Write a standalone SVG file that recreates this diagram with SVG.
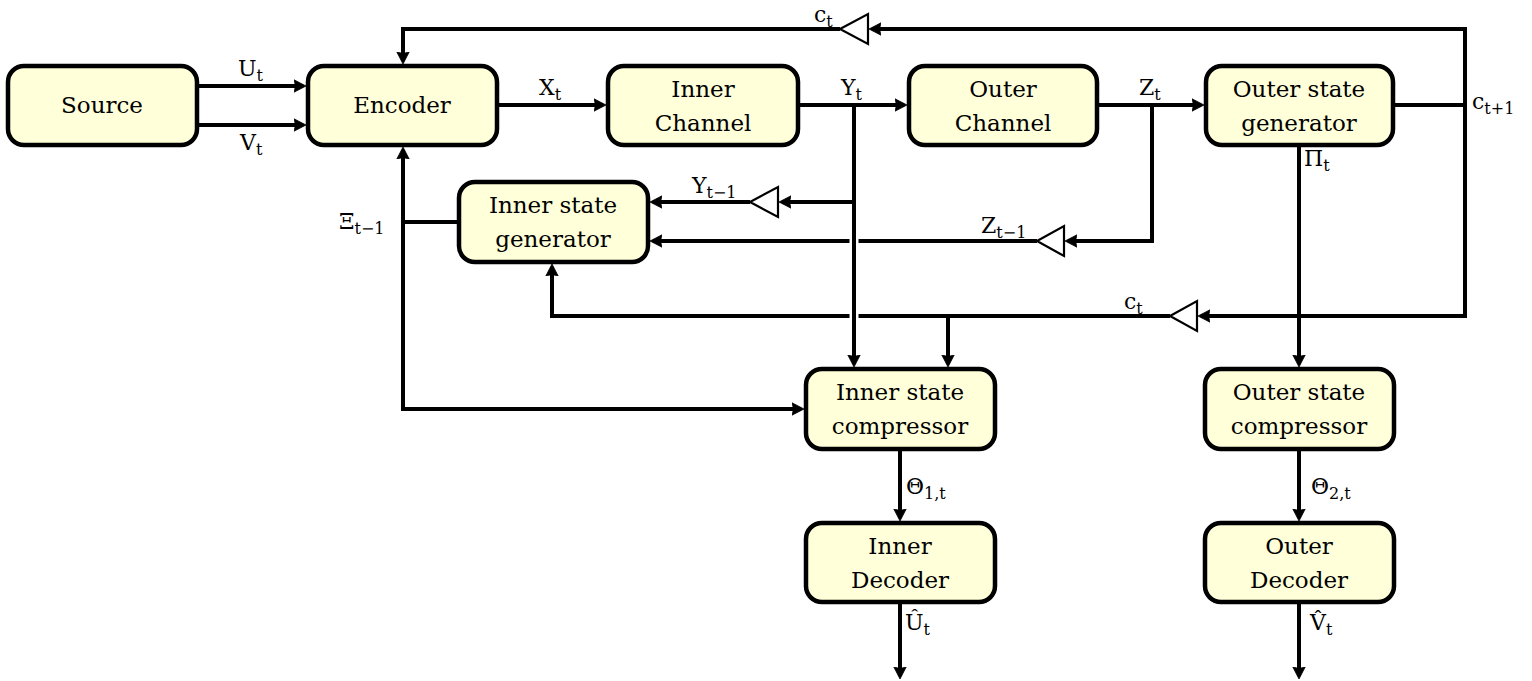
<svg xmlns="http://www.w3.org/2000/svg" width="1532" height="681" viewBox="0 0 1532 681">
  <style>
    .box { fill: #ffffd9; stroke: #000; stroke-width: 4.5; }
    .bt { font-family: "DejaVu Serif", serif; font-size: 23px; text-anchor: middle; fill: #000; }
    .lb { font-family: "DejaVu Serif", serif; font-size: 22px; fill: #000; }
    .sb { font-size: 16px; }
    .wire { fill: none; stroke: #000; stroke-width: 4; stroke-linejoin: miter; }
    .arr { fill: none; stroke: #000; stroke-width: 4; marker-end: url(#head); }
    .gap { fill: none; stroke: #fff; stroke-width: 9; }
    .delay { fill: #fff; stroke: #000; stroke-width: 2.2; }
  </style>
  <defs>
    <!-- arrow tip sits 3px past the end of the line so the butt end stays hidden -->
    <marker id="head" markerUnits="userSpaceOnUse" markerWidth="16" markerHeight="16" refX="9" refY="8" orient="auto">
      <path d="M0,1.8 L12,8 L0,14.2 L1.5,8 Z" fill="#000" stroke="#000" stroke-width="0.8" stroke-linejoin="round"/>
    </marker>
  </defs>
  <rect width="1532" height="681" fill="#fff"/>

  <!-- connectors -->
  <g id="connectors">
    <path class="arr" d="M197,86 H303"/>
    <path class="arr" d="M197,125 H303"/>
    <path class="arr" d="M497,105 H603"/>
    <path class="arr" d="M798,105 H904"/>
    <path class="arr" d="M1097,105 H1201"/>
    <!-- feedback c_{t+1} loop -->
    <path class="wire" d="M1394,105 H1465"/>
    <path class="wire" d="M1465,27 V318"/>
    <path class="arr" d="M1467,29 H872"/>
    <path class="arr" d="M840,29 H403 V61"/>
    <!-- Z_t branch -->
    <path class="arr" d="M1152,105 V241 H1068"/>
    <path class="arr" d="M1037,241 H653"/>
    <!-- lower c_t branch -->
    <path class="arr" d="M1467,316 H1201"/>
    <path class="arr" d="M1170,316 H552 V267"/>
    <path class="arr" d="M948,316 V364"/>
    <!-- Y_{t-1} branch -->
    <path class="arr" d="M854,202 H782"/>
    <path class="arr" d="M750,202 H653"/>
    <!-- gaps where Y_t vertical crosses -->
    <path class="gap" d="M854,234 V248 M854,309 V323"/>
    <path class="arr" d="M854,105 V364"/>
    <!-- Xi_{t-1} -->
    <path class="wire" d="M459,222 H403"/>
    <path class="arr" d="M403,411 V150"/>
    <path class="arr" d="M401,409 H801"/>
    <!-- Pi_t -->
    <path class="arr" d="M1299,145 V364"/>
    <!-- compressor to decoder -->
    <path class="arr" d="M900,449 V518"/>
    <path class="arr" d="M1299,449 V518"/>
    <!-- decoder outputs -->
    <path class="arr" d="M900,602 V676"/>
    <path class="arr" d="M1299,602 V676"/>
    <!-- delay elements -->
    <path class="delay" d="M840,29 L868,14 L868,44 Z"/>
    <path class="delay" d="M750,202 L778,187 L778,217 Z"/>
    <path class="delay" d="M1037,241 L1064,226 L1064,256 Z"/>
    <path class="delay" d="M1170,316 L1197,301 L1197,331 Z"/>
  </g>

  <!-- connector labels -->
  <g id="labels">
    <text class="lb" x="238" y="76">U<tspan class="sb" dy="5">t</tspan></text>
    <text class="lb" x="240" y="150">V<tspan class="sb" dy="5">t</tspan></text>
    <text class="lb" x="539" y="95">X<tspan class="sb" dy="5">t</tspan></text>
    <text class="lb" x="841" y="95">Y<tspan class="sb" dy="5">t</tspan></text>
    <text class="lb" x="1139" y="95">Z<tspan class="sb" dy="5">t</tspan></text>
    <text class="lb" x="814" y="22">c<tspan class="sb" dy="5">t</tspan></text>
    <text class="lb" x="1472" y="109">c<tspan class="sb" dy="5">t+1</tspan></text>
    <text class="lb" x="692" y="193">Y<tspan class="sb" dy="5">t−1</tspan></text>
    <text class="lb" x="981" y="233">Z<tspan class="sb" dy="5">t−1</tspan></text>
    <text class="lb" x="339" y="229">Ξ<tspan class="sb" dy="5">t−1</tspan></text>
    <text class="lb" x="1304" y="166">Π<tspan class="sb" dy="5">t</tspan></text>
    <text class="lb" x="1124" y="309">c<tspan class="sb" dy="5">t</tspan></text>
    <text class="lb" x="906" y="494">Θ<tspan class="sb" dy="5">1,t</tspan></text>
    <text class="lb" x="1311" y="494">Θ<tspan class="sb" dy="5">2,t</tspan></text>
    <text class="lb" x="905" y="630">Û<tspan class="sb" dy="5">t</tspan></text>
    <text class="lb" x="1310" y="630">V̂<tspan class="sb" dy="5">t</tspan></text>
  </g>

  <!-- nodes -->
  <g id="source">
    <rect class="box" x="8" y="66" width="189" height="79" rx="16"/>
    <text class="bt" x="102" y="113">Source</text>
  </g>
  <g id="encoder">
    <rect class="box" x="308" y="66" width="189" height="79" rx="16"/>
    <text class="bt" x="402" y="113">Encoder</text>
  </g>
  <g id="inner-channel">
    <rect class="box" x="608" y="66" width="190" height="79" rx="16"/>
    <text class="bt" x="703" y="97">Inner</text>
    <text class="bt" x="703" y="131">Channel</text>
  </g>
  <g id="outer-channel">
    <rect class="box" x="909" y="66" width="188" height="79" rx="16"/>
    <text class="bt" x="1003" y="97">Outer</text>
    <text class="bt" x="1003" y="131">Channel</text>
  </g>
  <g id="outer-state-generator">
    <rect class="box" x="1206" y="66" width="187" height="79" rx="16"/>
    <text class="bt" x="1299" y="97">Outer state</text>
    <text class="bt" x="1299" y="131">generator</text>
  </g>
  <g id="inner-state-generator">
    <rect class="box" x="459" y="182" width="189" height="80" rx="16"/>
    <text class="bt" x="553" y="213">Inner state</text>
    <text class="bt" x="553" y="247">generator</text>
  </g>
  <g id="inner-state-compressor">
    <rect class="box" x="806" y="369" width="189" height="80" rx="16"/>
    <text class="bt" x="900" y="400">Inner state</text>
    <text class="bt" x="900" y="434">compressor</text>
  </g>
  <g id="outer-state-compressor">
    <rect class="box" x="1205" y="369" width="189" height="80" rx="16"/>
    <text class="bt" x="1299" y="400">Outer state</text>
    <text class="bt" x="1299" y="434">compressor</text>
  </g>
  <g id="inner-decoder">
    <rect class="box" x="806" y="523" width="189" height="79" rx="16"/>
    <text class="bt" x="900" y="554">Inner</text>
    <text class="bt" x="900" y="588">Decoder</text>
  </g>
  <g id="outer-decoder">
    <rect class="box" x="1205" y="523" width="189" height="79" rx="16"/>
    <text class="bt" x="1299" y="554">Outer</text>
    <text class="bt" x="1299" y="588">Decoder</text>
  </g>
</svg>
